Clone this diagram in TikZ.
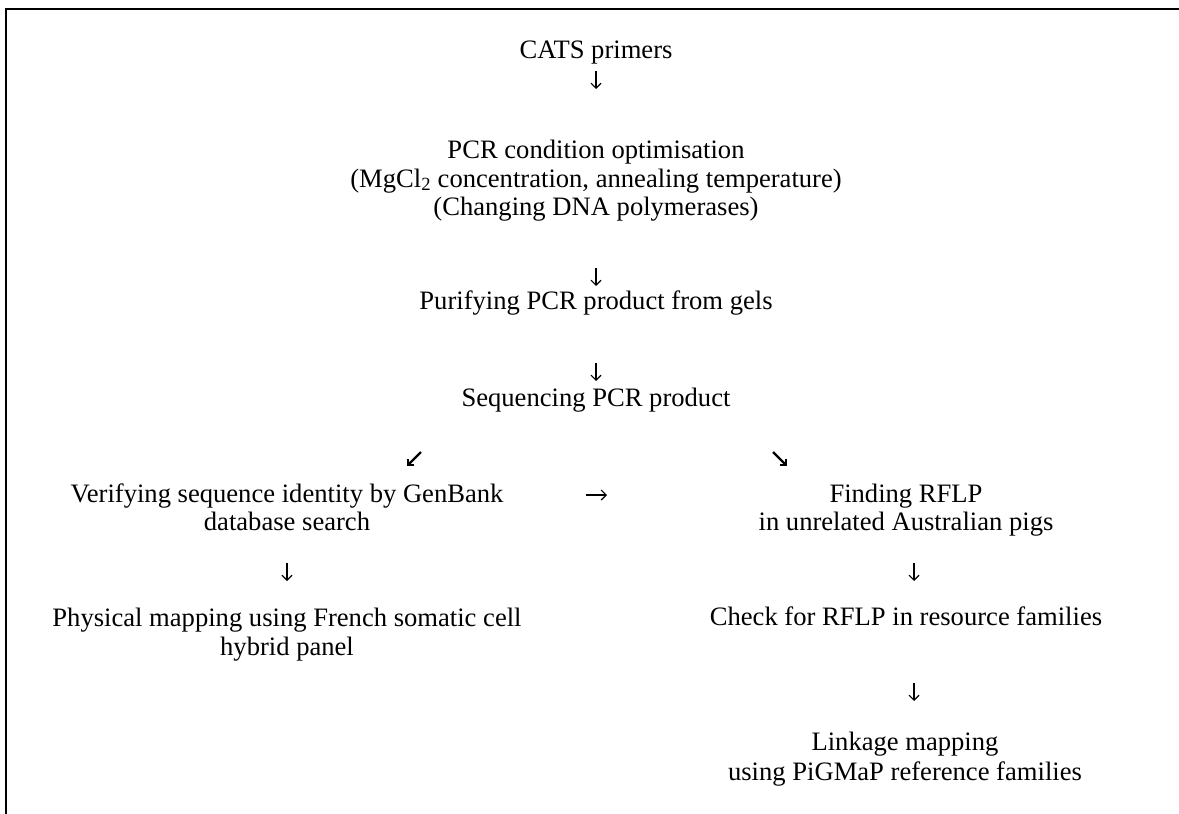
\documentclass[tikz,border=0pt]{standalone}
\usepackage{fontspec}
\setmainfont{Liberation Serif}
\usetikzlibrary{arrows.meta}
\begin{document}
\begin{tikzpicture}[x=1pt,y=1pt,
  txt/.style={font=\fontsize{26.6}{29}\selectfont, inner sep=0pt, anchor=base},
  dnarrow/.style={line width=1.1pt, -{Straight Barb[length=5pt,width=10pt]}},
  diagarrow/.style={line width=2.3pt, line cap=butt, -{Straight Barb[angle=90:5.8pt]}},
  framestyle/.style={line width=1.7pt, line join=miter}]
\useasboundingbox (0,0) rectangle (1179,-814);
\draw[framestyle] (5.8,-814) -- (5.8,-8.7) -- (1179,-8.7);

\node[txt] (cats) at (596,-58) {CATS primers};
\node[txt] (pcr1) at (596,-158) {PCR condition optimisation};
\node[txt] (pcr2) at (596,-187) {(MgCl\textsubscript{2} concentration, annealing temperature)};
\node[txt] (pcr3) at (596,-215) {(Changing DNA polymerases)};
\node[txt] (pur) at (596,-309) {Purifying PCR product from gels};
\node[txt] (seq) at (596,-406) {Sequencing PCR product};
\node[txt] (ver1) at (287,-502) {Verifying sequence identity by GenBank};
\node[txt] (ver2) at (287,-530) {database search};
\node[txt] (rf1) at (906,-502) {Finding RFLP};
\node[txt] (rf2) at (906,-530) {in unrelated Australian pigs};
\node[txt] (phy1) at (287,-626) {Physical mapping using French somatic cell};
\node[txt] (phy2) at (287,-655) {hybrid panel};
\node[txt] (chk) at (906,-625) {Check for RFLP in resource families};
\node[txt] (lnk1) at (905,-750) {Linkage mapping};
\node[txt] (lnk2) at (905,-780) {using PiGMaP reference families};

\coordinate (a1s) at (596,-71);  \coordinate (a1e) at (596,-89);
\coordinate (a2s) at (596,-268); \coordinate (a2e) at (596,-286);
\coordinate (a3s) at (596,-363); \coordinate (a3e) at (596,-381);
\coordinate (dls) at (421,-452); \coordinate (dle) at (407,-466);
\coordinate (drs) at (773,-452); \coordinate (dre) at (787,-466);
\coordinate (hrs) at (586,-495); \coordinate (hre) at (607,-495);
\coordinate (l1s) at (287,-563); \coordinate (l1e) at (287,-581);
\coordinate (r1s) at (914,-563); \coordinate (r1e) at (914,-581);
\coordinate (r2s) at (914,-683); \coordinate (r2e) at (914,-701);

\draw[dnarrow] (a1s) -- (a1e);
\draw[dnarrow] (a2s) -- (a2e);
\draw[dnarrow] (a3s) -- (a3e);
\draw[diagarrow] (dls) -- (dle);
\draw[diagarrow] (drs) -- (dre);
\draw[dnarrow] (hrs) -- (hre);
\draw[dnarrow] (l1s) -- (l1e);
\draw[dnarrow] (r1s) -- (r1e);
\draw[dnarrow] (r2s) -- (r2e);
\end{tikzpicture}
\end{document}
